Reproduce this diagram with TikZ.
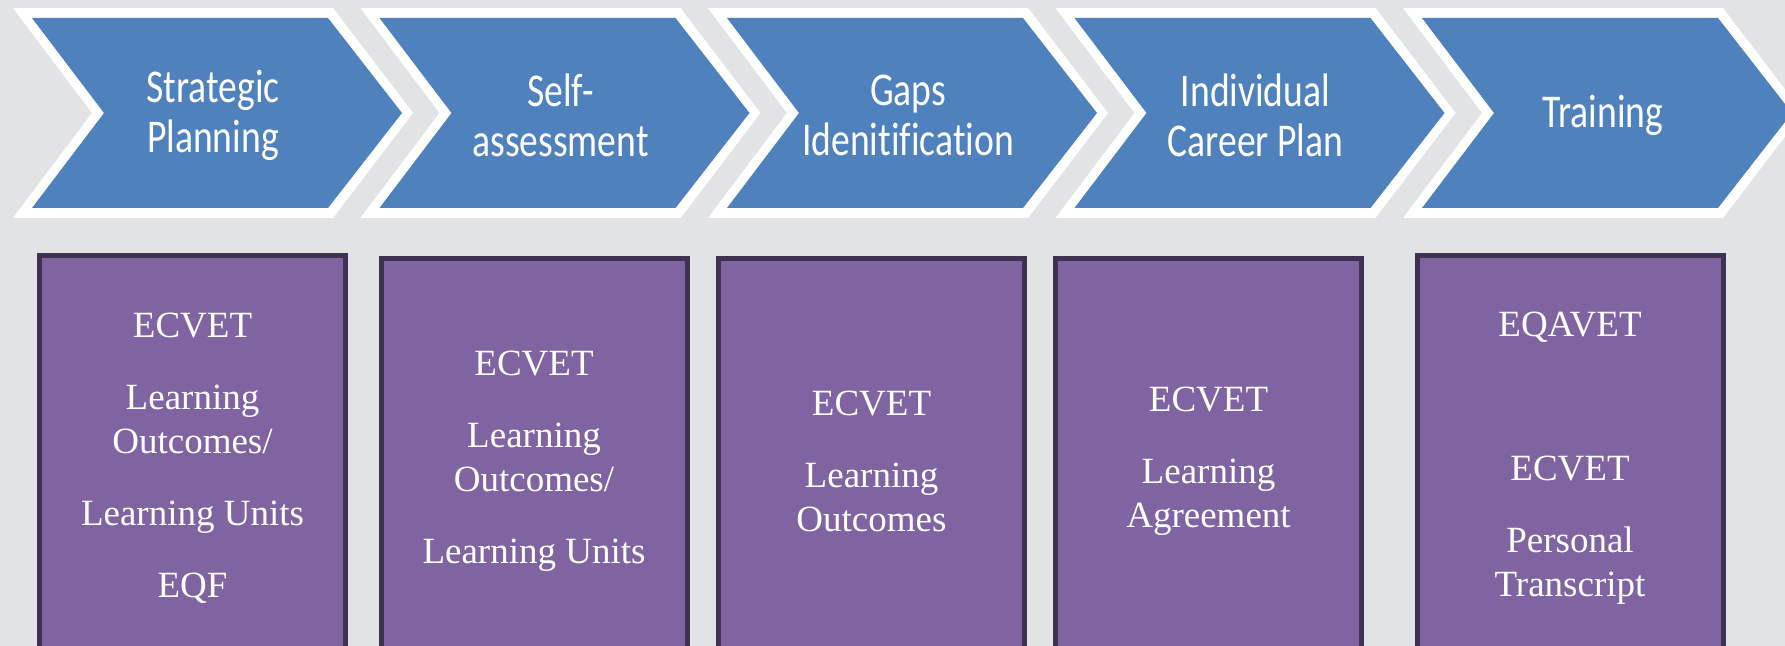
\documentclass[tikz,border=0pt]{standalone}
\usepackage{fontspec}
\setmainfont{Liberation Serif}
\newfontfamily\stepfont[FakeStretch=0.8, Ligatures=NoCommon]{Carlito}

\definecolor{pagegray}{HTML}{E2E3E5}
\definecolor{stepblue}{HTML}{4F81BD}
\definecolor{toolpurple}{HTML}{8064A2}
\definecolor{tooledge}{HTML}{3F3151}

\tikzset{
  steplabel/.style={text=white, align=center, inner sep=0pt,
    font=\stepfont\fontsize{23.5}{25}\selectfont},
  toolbox/.style={fill=toolpurple, draw=tooledge, line width=2.5pt,
    minimum width=153pt, minimum height=202.5pt, inner sep=0pt,
    text=white, align=center, font=\fontsize{18.5}{22}\selectfont},
}

\begin{document}
\begin{tikzpicture}[x=0.5pt, y=-0.5pt]
  \useasboundingbox (0,0) rectangle (1785,646);
  \clip (0,0) rectangle (1785,646);
  \fill[pagegray] (0,0) rectangle (1785,646);

  % process chevrons, white rim first
  \foreach \x/\n/\txt in {13/plan/{Strategic\\Planning},
      360.5/self/{Self-\\assessment},
      708/gaps/{Gaps\\Idenitification},
      1055.5/career/{Individual\\Career Plan},
      1403/train/{Training}} {
    \fill[white] (\x,8) -- (\x+320,8) -- (\x+400,113) -- (\x+320,218)
      -- (\x,218) -- (\x+79,113) -- cycle;
    \fill[stepblue] (\x+19,18) -- (\x+315,18) -- (\x+389,113) -- (\x+315,208)
      -- (\x+19,208) -- (\x+91,113) -- cycle;
    \node[steplabel] (\n) at (\x+200,115) {\txt};
  }

  % tools for each step
  \node[toolbox] (tools-plan) at (192.5,458)
    {ECVET\\[14pt] Learning\\ Outcomes/\\[14pt] Learning Units\\[14pt] EQF};
  \node[toolbox] (tools-self) at (534,461)
    {ECVET\\[14pt] Learning\\ Outcomes/\\[14pt] Learning Units};
  \node[toolbox] (tools-gaps) at (871.5,461)
    {ECVET\\[14pt] Learning\\ Outcomes};
  \node[toolbox] (tools-career) at (1208.5,461)
    {ECVET\\[14pt] Learning\\ Agreement};
  \node[toolbox] (tools-train) at (1570,458)
    {EQAVET\\[14pt] \mbox{}\\[14pt] ECVET\\[14pt] Personal\\ Transcript};
\end{tikzpicture}
\end{document}
